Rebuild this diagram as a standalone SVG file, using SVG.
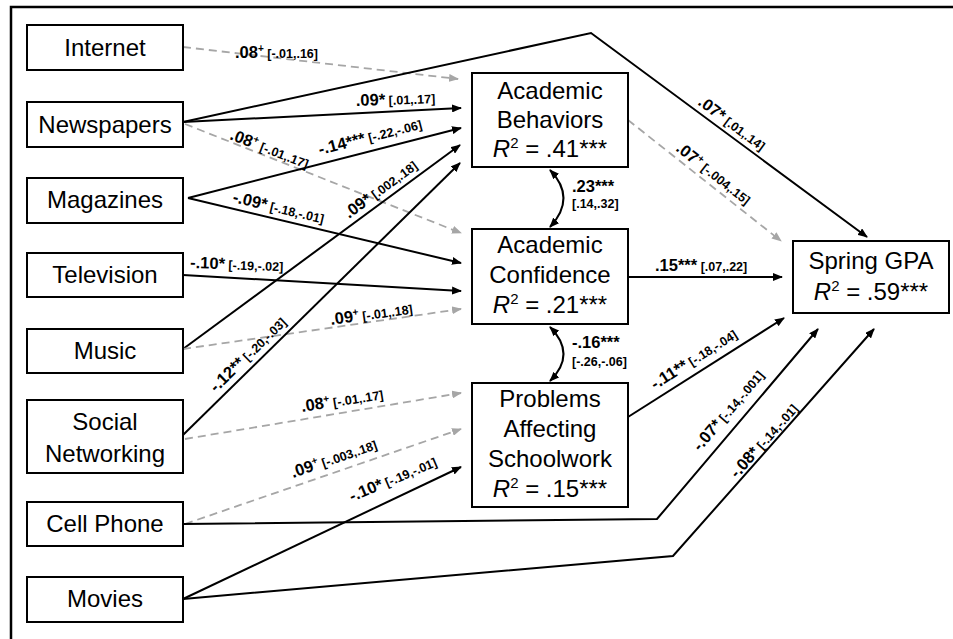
<svg xmlns="http://www.w3.org/2000/svg" width="953" height="639" viewBox="0 0 953 639">
<defs>
<style>
.box{fill:#fff;stroke:#000;stroke-width:2}
.nt{font-family:"Liberation Sans",Arial,sans-serif;font-size:24px;text-anchor:middle;fill:#000}
.lab{font-family:"Liberation Sans",Arial,sans-serif;font-weight:bold;fill:#000}
.c{font-size:16.5px}
.ci{font-size:12.5px}
.sp{font-size:10px}
.solid{fill:none;stroke:#000;stroke-width:2;marker-end:url(#ah)}
.dash{fill:none;stroke:#a6a6a6;stroke-width:1.8;stroke-dasharray:8 5;marker-end:url(#ahg)}
.dbl{fill:none;stroke:#000;stroke-width:2;marker-start:url(#ahd);marker-end:url(#ahd)}
.frame{fill:none;stroke:#000;stroke-width:2.5}
</style>
<marker id="ah" viewBox="0 0 10 8" refX="9" refY="4" markerWidth="10" markerHeight="8" markerUnits="userSpaceOnUse" orient="auto"><path d="M0,0 L10,4 L0,8 z" fill="#000"/></marker>
<marker id="ahg" viewBox="0 0 10 8" refX="9" refY="4" markerWidth="10" markerHeight="8" markerUnits="userSpaceOnUse" orient="auto"><path d="M0,0 L10,4 L0,8 z" fill="#a6a6a6"/></marker>
<marker id="ahd" viewBox="0 0 10 8" refX="9" refY="4" markerWidth="10" markerHeight="8" markerUnits="userSpaceOnUse" orient="auto-start-reverse"><path d="M0,0 L10,4 L0,8 z" fill="#000"/></marker>
</defs>
<rect x="0" y="0" width="953" height="639" fill="#fff"/>
<path class="frame" d="M11,639 V7 H953"/>

<g id="connectors">
<path class="dash" d="M183,47 L458,79"/>
<path class="solid" d="M183,122 L591,33 L867,237"/>
<path class="solid" d="M183,122 L461,108"/>
<path class="dash" d="M185,124 L461,233"/>
<path class="solid" d="M188,198 L461,128"/>
<path class="solid" d="M188,198 L461,263"/>
<path class="solid" d="M183,275 L461,291"/>
<path class="solid" d="M183,349 L460,145"/>
<path class="dash" d="M183,349 L461,309"/>
<path class="solid" d="M183,435 L460,163"/>
<path class="dash" d="M185,439 L461,393"/>
<path class="dash" d="M185,524 L461,429"/>
<path class="solid" d="M183,524 L657,519 L818,329"/>
<path class="solid" d="M183,599 L461,467"/>
<path class="solid" d="M183,599 L673,556 L874,329"/>
<path class="dash" d="M628,120 L781,241"/>
<path class="solid" d="M628,277 L782,277"/>
<path class="solid" d="M628,417 L784,318"/>
<path class="dbl" d="M550,170 Q577,198 550,227"/>
<path class="dbl" d="M550,327 Q577,354 550,381"/>

<g id="labels" class="lab">
<text x="235" y="58"><tspan class="c">.08</tspan><tspan class="sp" dy="-6">+</tspan><tspan class="ci" dy="6"> [-.01,.16]</tspan></text>
<text transform="translate(356,106) rotate(-2)"><tspan class="c">.09*</tspan><tspan class="ci"> [.01,.17]</tspan></text>
<text transform="translate(229,139) rotate(21)"><tspan class="c">.08</tspan><tspan class="sp" dy="-6">+</tspan><tspan class="ci" dy="6"> [-.01,.17]</tspan></text>
<text transform="translate(320,155) rotate(-14.5)"><tspan class="c">-.14***</tspan><tspan class="ci"> [-.22,-.06]</tspan></text>
<text transform="translate(232,202) rotate(13.3)"><tspan class="c">-.09*</tspan><tspan class="ci"> [-.18,-.01]</tspan></text>
<text transform="translate(349,219) rotate(-36.5)"><tspan class="c">.09*</tspan><tspan class="ci"> [.002,.18]</tspan></text>
<text transform="translate(697,104) rotate(36.5)"><tspan class="c">.07*</tspan><tspan class="ci"> [.01,.14]</tspan></text>
<text transform="translate(675,150) rotate(38)"><tspan class="c">.07</tspan><tspan class="sp" dy="-6">+</tspan><tspan class="ci" dy="6"> [-.004,.15]</tspan></text>
<text x="655" y="271"><tspan class="c">.15***</tspan><tspan class="ci"> [.07,.22]</tspan></text>
<text x="572" y="192" class="c">.23***</text>
<text x="572" y="208" class="ci">[.14,.32]</text>
<text x="572" y="348" class="c">-.16***</text>
<text x="572" y="366" class="ci">[-.26,-.06]</text>
<text transform="translate(190,268) rotate(2)"><tspan class="c">-.10*</tspan><tspan class="ci"> [-.19,-.02]</tspan></text>
<text transform="translate(331,325) rotate(-8)"><tspan class="c">.09</tspan><tspan class="sp" dy="-6">+</tspan><tspan class="ci" dy="6"> [-.01,.18]</tspan></text>
<text transform="translate(216,393) rotate(-44.4)"><tspan class="c">-.12**</tspan><tspan class="ci"> [-.20,-.03]</tspan></text>
<text transform="translate(302,412) rotate(-9)"><tspan class="c">.08</tspan><tspan class="sp" dy="-6">+</tspan><tspan class="ci" dy="6"> [-.01,.17]</tspan></text>
<text transform="translate(293,478) rotate(-19)"><tspan class="c">.09</tspan><tspan class="sp" dy="-6">+</tspan><tspan class="ci" dy="6"> [-.003,.18]</tspan></text>
<text transform="translate(352,502) rotate(-23)"><tspan class="c">-.10*</tspan><tspan class="ci"> [-.19,-.01]</tspan></text>
<text transform="translate(655,390) rotate(-32.5)"><tspan class="c">-.11**</tspan><tspan class="ci"> [-.18,-.04]</tspan></text>
<text transform="translate(700,452) rotate(-49.7)"><tspan class="c">-.07*</tspan><tspan class="ci"> [-.14,-.001]</tspan></text>
<text transform="translate(737,479) rotate(-48.5)"><tspan class="c">-.08*</tspan><tspan class="ci"> [-.14,-.01]</tspan></text>
</g>
</g>

<g id="internet"><rect class="box" x="27" y="25" width="156" height="45"/><text class="nt" x="105" y="56">Internet</text></g>
<g id="newspapers"><rect class="box" x="27" y="102" width="156" height="45"/><text class="nt" x="105" y="133">Newspapers</text></g>
<g id="magazines"><rect class="box" x="27" y="178" width="156" height="45"/><text class="nt" x="105" y="208">Magazines</text></g>
<g id="television"><rect class="box" x="27" y="253" width="156" height="44"/><text class="nt" x="105" y="283">Television</text></g>
<g id="music"><rect class="box" x="27" y="329" width="156" height="44"/><text class="nt" x="105" y="359">Music</text></g>
<g id="social-networking"><rect class="box" x="27" y="400" width="156" height="73"/><text class="nt" x="105" y="430">Social</text><text class="nt" x="105" y="462">Networking</text></g>
<g id="cell-phone"><rect class="box" x="27" y="502" width="156" height="44"/><text class="nt" x="105" y="532">Cell Phone</text></g>
<g id="movies"><rect class="box" x="27" y="577" width="156" height="45"/><text class="nt" x="105" y="607">Movies</text></g>

<g id="academic-behaviors"><rect class="box" x="472" y="73" width="156" height="94"/>
<text class="nt" x="550" y="99">Academic</text><text class="nt" x="550" y="128">Behaviors</text>
<text class="nt" x="550" y="157"><tspan font-style="italic">R</tspan><tspan font-size="15" dy="-9">2</tspan><tspan dy="9"> = .41***</tspan></text></g>
<g id="academic-confidence"><rect class="box" x="472" y="229" width="156" height="95"/>
<text class="nt" x="550" y="253">Academic</text><text class="nt" x="550" y="283">Confidence</text>
<text class="nt" x="550" y="313"><tspan font-style="italic">R</tspan><tspan font-size="15" dy="-9">2</tspan><tspan dy="9"> = .21***</tspan></text></g>
<g id="problems"><rect class="box" x="472" y="383" width="156" height="124"/>
<text class="nt" x="550" y="407">Problems</text><text class="nt" x="550" y="437">Affecting</text><text class="nt" x="550" y="467">Schoolwork</text>
<text class="nt" x="550" y="497"><tspan font-style="italic">R</tspan><tspan font-size="15" dy="-9">2</tspan><tspan dy="9"> = .15***</tspan></text></g>
<g id="spring-gpa"><rect class="box" x="793" y="241" width="156" height="72"/>
<text class="nt" x="871" y="269">Spring GPA</text>
<text class="nt" x="871" y="300"><tspan font-style="italic">R</tspan><tspan font-size="15" dy="-9">2</tspan><tspan dy="9"> = .59***</tspan></text></g>
</svg>
